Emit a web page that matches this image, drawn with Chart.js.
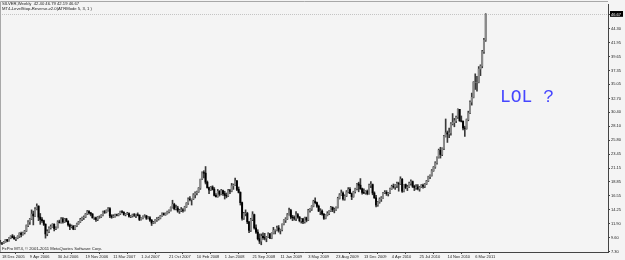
<!DOCTYPE html>
<html>
<head>
<meta charset="utf-8">
<script src="https://cdn.jsdelivr.net/npm/chart.js@4.4.1/dist/chart.umd.min.js"></script>
<style>
html,body{margin:0;padding:0;background:#f4f4f4;overflow:hidden;}
#c{display:block;}
</style>
</head>
<body>
<canvas id="c" width="625" height="260"></canvas>
<script>
// ---- texts ----
const symbolLine = "SILVER,Weekly  42.40 46.79 42.19 46.67";
const indicatorLine = "MT4-LevelStop-Reverse-v2.0(ATRMode 5, 3, 1 )";
const copyrightLine = "FxPro MT4, \u00A9 2001-2011 MetaQuotes Software Corp.";
const noteText = "LOL ?";

// ---- x axis (weekly bars, index 0 = week of 11 Dec 2005) ----
const dateLabels = ["18 Dec 2005","9 Apr 2006","30 Jul 2006","19 Nov 2006","11 Mar 2007","1 Jul 2007",
  "21 Oct 2007","10 Feb 2008","1 Jun 2008","21 Sep 2008","11 Jan 2009","3 May 2009","23 Aug 2009",
  "13 Dec 2009","4 Apr 2010","25 Jul 2010","14 Nov 2010","6 Mar 2011"];
const dateLabelIndex = [1,17,33,49,65,81,97,113,129,145,161,177,193,209,225,241,257,273];

// ---- y axis tick labels ----
const priceTicks = [7.30,9.60,11.90,14.25,16.55,18.85,21.15,23.45,25.80,28.10,30.40,32.70,35.05,37.35,39.65,41.95,44.30,46.67];

// ---- weekly OHLC ----
const open = [
8.65,8.70,8.65,8.83,9.25,9.05,9.50,9.85,9.60,9.40,
9.50,9.80,10.30,10.10,10.40,10.70,11.60,12.20,12.70,13.50,
13.20,14.30,14.80,13.00,12.60,12.40,11.80,10.20,10.60,11.20,
11.40,11.80,11.10,11.20,12.20,12.10,12.70,12.20,12.70,12.30,
11.70,11.40,11.50,11.00,11.50,11.90,12.20,12.60,12.90,13.00,
13.50,13.90,13.70,13.50,12.90,12.90,12.60,13.00,13.00,13.30,
13.90,13.80,14.10,14.40,13.20,13.00,13.10,13.40,13.30,13.50,
13.90,13.80,13.40,13.50,13.60,13.10,13.20,13.40,13.30,13.40,
13.30,12.60,12.80,13.10,13.20,12.80,12.90,12.50,12.00,12.10,
12.50,12.70,12.80,13.20,13.60,13.40,13.60,13.90,14.10,14.60,
15.10,14.40,14.50,14.00,14.10,14.20,14.10,14.70,15.30,16.00,
15.90,16.00,16.70,17.00,17.20,17.80,19.30,20.40,20.30,18.80,
17.90,17.50,18.00,17.60,16.60,16.40,17.30,16.80,17.40,16.90,
16.60,16.50,17.40,17.30,18.20,18.30,19.00,17.60,17.10,15.40,
12.80,13.60,13.60,12.20,10.80,12.60,13.40,11.20,10.50,9.40,
9.00,9.80,9.60,9.50,9.70,10.20,9.50,10.30,10.80,10.80,
11.20,10.80,10.90,11.80,12.50,12.70,13.40,14.10,13.00,12.90,
12.80,13.40,13.00,12.40,12.70,12.20,12.90,12.50,14.10,14.30,
14.80,15.60,15.40,14.80,14.00,14.00,13.50,12.80,13.30,13.60,
14.00,14.60,14.20,14.20,14.60,16.10,16.70,17.00,16.00,16.50,
17.20,17.60,16.90,16.40,17.20,17.70,18.50,18.30,17.70,17.10,
17.00,17.30,16.90,18.30,18.40,17.00,16.20,15.00,15.50,16.00,
16.20,17.00,17.10,16.90,17.00,17.70,18.10,18.00,18.30,18.60,
18.50,19.30,17.30,18.40,17.90,18.00,18.60,18.90,18.10,17.90,
18.00,17.70,18.00,18.30,18.10,18.50,19.00,19.70,19.90,20.70,
21.30,22.00,22.90,24.10,23.40,24.40,26.40,27.00,26.80,27.00,
28.50,28.70,29.00,29.60,30.90,29.00,28.90,27.80,27.70,29.20,
30.30,32.10,32.90,35.40,35.40,35.40,37.60,38.10,40.50,42.40];
const high = [
9.15,8.80,8.95,9.30,9.30,9.60,9.90,10.10,9.90,9.60,
9.90,10.40,10.50,10.50,10.80,11.70,12.40,12.80,14.20,14.00,
14.60,15.20,14.90,13.60,12.90,12.50,11.90,10.90,11.40,11.70,
11.90,11.90,11.40,12.40,12.50,12.90,12.90,12.80,12.80,12.40,
11.90,11.70,11.60,11.60,12.00,12.30,12.80,13.00,13.20,13.60,
14.10,14.10,13.80,13.60,13.00,13.00,13.10,13.20,13.40,14.00,
14.10,14.20,14.60,14.60,13.40,13.40,13.50,13.50,13.60,14.00,
14.10,13.90,13.60,13.80,13.70,13.30,13.50,13.60,13.50,13.70,
13.40,12.90,13.20,13.40,13.30,13.10,13.10,12.60,12.30,12.60,
12.90,13.00,13.30,13.70,13.70,13.70,14.00,14.20,14.70,15.80,
15.30,15.00,14.80,14.30,14.60,14.40,14.80,15.40,16.20,16.40,
16.00,16.90,17.20,17.30,17.90,19.30,20.50,20.70,21.40,19.00,
18.00,18.10,18.20,17.90,16.90,17.60,17.40,17.60,17.50,17.30,
17.00,17.60,17.60,18.60,18.50,19.50,19.10,18.00,17.20,15.50,
13.80,14.20,13.80,12.30,12.80,13.90,13.50,11.70,10.90,10.20,
10.20,10.40,10.30,9.80,10.40,10.30,10.40,11.30,10.90,11.50,
11.60,11.00,11.90,12.60,12.90,13.60,14.50,14.30,13.30,13.20,
13.90,13.60,13.10,12.80,12.80,13.00,13.00,14.30,14.40,14.90,
15.80,16.20,15.50,15.00,14.40,14.20,13.60,13.40,13.90,14.10,
14.80,14.70,14.50,14.70,16.30,16.90,17.50,17.20,16.70,17.40,
17.90,17.90,17.00,17.30,17.80,18.60,18.80,19.40,17.80,17.70,
17.40,17.50,18.50,18.90,18.50,17.20,16.60,15.60,16.20,16.40,
17.10,17.40,17.40,17.10,17.80,18.30,18.50,18.40,18.80,18.80,
19.70,19.40,18.40,18.50,18.30,18.80,19.20,19.00,18.30,18.40,
18.40,18.10,18.40,18.50,18.60,19.10,19.80,20.00,20.90,21.40,
22.20,23.00,24.30,24.60,24.50,26.60,29.30,27.30,27.80,28.70,
30.20,29.40,29.80,31.00,30.90,29.80,29.00,28.10,29.30,30.60,
32.30,33.60,35.50,36.80,36.40,38.00,38.30,40.70,42.70,46.79];
const low = [
8.55,8.40,8.60,8.80,8.90,9.00,9.40,9.55,9.30,9.10,
9.40,9.60,9.70,10.00,10.20,10.60,11.40,11.80,12.60,11.70,
13.10,14.20,12.40,11.80,12.10,11.60,9.50,9.90,10.40,11.00,
11.30,10.70,10.90,11.20,12.00,12.00,12.00,12.10,12.20,11.50,
10.90,11.20,10.90,10.90,11.40,11.80,12.10,12.40,12.60,12.90,
13.40,13.50,13.20,12.80,12.60,12.30,12.40,12.80,12.90,13.20,
13.60,13.70,14.00,12.90,12.80,12.90,13.00,13.20,13.20,13.40,
13.70,13.30,13.20,13.40,13.00,12.90,13.00,13.10,12.90,13.20,
12.40,12.50,12.70,13.00,12.60,12.70,12.30,11.60,11.90,12.00,
12.30,12.50,12.70,13.10,13.30,13.30,13.50,13.70,14.00,14.50,
14.20,14.20,13.80,13.60,13.90,13.80,14.00,14.60,15.10,15.70,
15.00,15.90,16.20,16.70,17.10,17.60,19.20,19.50,18.50,17.80,
16.90,17.40,17.50,16.50,16.30,16.30,16.50,16.70,16.60,16.00,
16.20,16.40,16.90,17.20,17.60,18.20,17.40,17.00,15.00,12.50,
12.60,13.20,11.90,10.40,10.60,12.40,11.00,10.30,9.20,8.60,
8.40,9.30,9.20,8.90,9.60,9.40,9.40,10.20,10.20,10.70,
10.50,10.20,10.70,11.70,12.10,12.60,13.30,12.70,12.40,12.50,
12.40,12.80,12.20,12.00,11.90,12.00,12.20,12.40,13.80,14.10,
14.70,15.20,14.60,13.90,13.40,13.30,12.60,12.70,13.20,13.40,
13.90,13.90,13.70,14.10,14.50,16.00,16.60,15.80,15.80,16.40,
17.00,16.90,15.90,16.30,17.00,17.50,17.20,17.60,16.80,16.90,
16.80,16.70,16.80,17.90,16.70,16.10,14.70,14.80,15.30,15.60,
16.10,16.90,16.60,16.50,16.90,17.60,17.80,17.60,17.90,17.30,
18.40,17.10,17.20,17.70,17.40,17.90,18.30,17.90,17.40,17.60,
17.50,17.30,17.90,17.80,17.90,18.40,18.90,19.40,19.80,20.60,
21.10,21.80,22.80,22.80,23.20,24.20,26.30,25.40,26.20,26.60,
28.30,28.00,28.70,29.40,28.90,28.80,27.50,26.40,27.60,29.00,
30.20,31.60,32.80,34.20,33.90,35.30,36.50,37.80,40.20,42.19];
const close = [
8.70,8.65,8.83,9.25,9.05,9.50,9.85,9.60,9.40,9.50,
9.80,10.30,10.10,10.40,10.70,11.60,12.20,12.70,13.50,13.20,
14.30,14.80,13.00,12.60,12.40,11.80,10.20,10.60,11.20,11.40,
11.80,11.10,11.20,12.20,12.10,12.70,12.20,12.70,12.30,11.70,
11.40,11.50,11.00,11.50,11.90,12.20,12.60,12.90,13.00,13.50,
13.90,13.70,13.50,12.90,12.90,12.60,13.00,13.00,13.30,13.90,
13.80,14.10,14.40,13.20,13.00,13.10,13.40,13.30,13.50,13.90,
13.80,13.40,13.50,13.60,13.10,13.20,13.40,13.30,13.40,13.30,
12.60,12.80,13.10,13.20,12.80,12.90,12.50,12.00,12.10,12.50,
12.70,12.80,13.20,13.60,13.40,13.60,13.90,14.10,14.60,15.10,
14.40,14.50,14.00,14.10,14.20,14.10,14.70,15.30,16.00,15.90,
16.00,16.70,17.00,17.20,17.80,19.30,20.40,20.30,18.80,17.90,
17.50,18.00,17.60,16.60,16.40,17.30,16.80,17.40,16.90,16.60,
16.50,17.40,17.30,18.20,18.30,19.00,17.60,17.10,15.40,12.80,
13.60,13.60,12.20,10.80,12.60,13.40,11.20,10.50,9.40,9.00,
9.80,9.60,9.50,9.70,10.20,9.50,10.30,10.80,10.80,11.20,
10.80,10.90,11.80,12.50,12.70,13.40,14.10,13.00,12.90,12.80,
13.40,13.00,12.40,12.70,12.20,12.90,12.50,14.10,14.30,14.80,
15.60,15.40,14.80,14.00,14.00,13.50,12.80,13.30,13.60,14.00,
14.60,14.20,14.20,14.60,16.10,16.70,17.00,16.00,16.50,17.20,
17.60,16.90,16.40,17.20,17.70,18.50,18.30,17.70,17.10,17.00,
17.30,16.90,18.30,18.40,17.00,16.20,15.00,15.50,16.00,16.20,
17.00,17.10,16.90,17.00,17.70,18.10,18.00,18.30,18.60,18.50,
19.30,17.30,18.40,17.90,18.00,18.60,18.90,18.10,17.90,18.00,
17.70,18.00,18.30,18.10,18.50,19.00,19.70,19.90,20.70,21.30,
22.00,22.90,24.10,23.40,24.40,26.40,27.00,26.80,27.00,28.50,
28.70,29.00,29.60,30.90,29.00,28.90,27.80,27.70,29.20,30.30,
32.10,32.90,35.40,35.40,35.40,37.60,38.10,40.50,42.40,46.67];

// ---- view window / styling (not data) ----
const view = { xMin: -0.15, xMax: 349.3, yMin: 7.2, yMax: 48.4 };
const notePos = { bar: 287.2, price: 32.95 };
const tickFont = { family: 'Liberation Sans', size: 4 };
const lastClose = close[close.length - 1];

const overlay = {
  id: 'overlay',
  beforeDatasetsDraw(chart) {
    const { ctx, chartArea: a, scales: { y } } = chart;
    const py = Math.round(y.getPixelForValue(lastClose)) + 0.5;
    ctx.save();
    ctx.strokeStyle = '#c4c4c4';
    ctx.lineWidth = 1;
    ctx.setLineDash([1, 1]);
    ctx.beginPath(); ctx.moveTo(a.left, py); ctx.lineTo(a.right, py); ctx.stroke();
    ctx.setLineDash([]);
    ctx.strokeStyle = '#a8a8a8';
    ctx.beginPath();
    ctx.moveTo(a.left + 0.5, a.bottom); ctx.lineTo(a.left + 0.5, 1.5); ctx.lineTo(a.right, 1.5);
    ctx.stroke();
    ctx.restore();
  },
  afterDraw(chart) {
    const { ctx, scales: { x, y } } = chart;
    ctx.save();
    ctx.fillStyle = '#222';
    ctx.textBaseline = 'middle';
    ctx.textAlign = 'left';
    ctx.font = '4.2px "Liberation Sans"';
    ctx.fillText(symbolLine, 2, 4);
    ctx.fillText(indicatorLine, 2, 8.5);
    ctx.fillText(copyrightLine, 2, 249);
    ctx.font = '18px "Liberation Mono"';
    ctx.fillStyle = '#4646ff';
    ctx.fillText(noteText, x.getPixelForValue(notePos.bar), y.getPixelForValue(notePos.price));
    ctx.restore();
  }
};

new Chart(document.getElementById('c'), {
  type: 'bar',
  data: {
    datasets: [
      {
        label: 'range',
        data: high.map((h, i) => ({ x: i, y: [low[i], h] })),
        backgroundColor: '#3a3a3a',
        barThickness: 1,
        grouped: false,
        order: 2
      },
      {
        label: 'body',
        data: open.map((o, i) => ({ x: i, y: [o, close[i]] })),
        backgroundColor: open.map((o, i) => close[i] >= o ? '#8a8a8a' : '#000'),
        barThickness: 1.3,
        grouped: false,
        order: 1
      }
    ]
  },
  options: {
    responsive: false,
    animation: false,
    devicePixelRatio: 1,
    layout: { padding: { top: 4, left: 0, right: 0, bottom: 0 } },
    plugins: { legend: { display: false }, tooltip: { enabled: false } },
    scales: {
      x: {
        type: 'linear', position: 'bottom', min: view.xMin, max: view.xMax, offset: false,
        afterBuildTicks: s => { s.ticks = dateLabelIndex.map(v => ({ value: v })); },
        afterFit: s => { s.height = 8; },
        ticks: {
          autoSkip: false, maxRotation: 0, minRotation: 0, align: 'start', padding: 0,
          font: tickFont, color: '#222',
          callback: (v, i) => dateLabels[i]
        },
        grid: { drawOnChartArea: false, drawTicks: true, tickLength: 2, color: '#444' },
        border: { color: '#444' }
      },
      y: {
        type: 'linear', position: 'right', min: view.yMin, max: view.yMax,
        afterBuildTicks: s => { s.ticks = priceTicks.map(v => ({ value: v })); },
        afterFit: s => { s.width = 17; },
        ticks: {
          padding: 1, font: tickFont,
          color: c => (c.tick && c.tick.value === lastClose) ? '#fff' : '#222',
          showLabelBackdrop: c => !!(c.tick && c.tick.value === lastClose),
          backdropColor: '#000',
          backdropPadding: { top: 1, bottom: 0, left: 1, right: 2 },
          callback: v => Number(v).toFixed(2)
        },
        grid: { drawOnChartArea: false, drawTicks: true, tickLength: 2, color: '#444' },
        border: { color: '#444' }
      }
    }
  },
  plugins: [overlay]
});
</script>
</body>
</html>
